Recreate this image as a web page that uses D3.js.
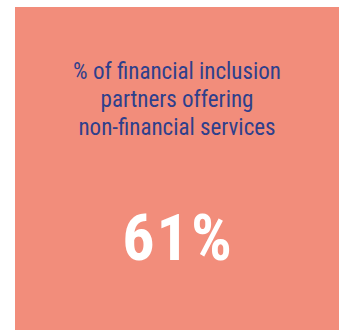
<!DOCTYPE html>
<html>
<head>
<meta charset="utf-8">
<script src="https://cdn.jsdelivr.net/npm/d3@7"></script>
<style>
  html, body { margin: 0; padding: 0; background: #ffffff; }
  svg { display: block; }
</style>
</head>
<body>
<div id="chart"></div>
<script>
// Headline statistic card
const titleLines = ["% of financial inclusion", "partners offering", "non-financial services"];
const statValue = [61];
const statUnit = "%";

const width = 351, height = 330;
const svg = d3.select("#chart").append("svg")
  .attr("width", width)
  .attr("height", height);

// Card background
const card = { x0: 15, y0: 7, x1: 339, y1: 330 };
svg.append("rect")
  .attr("x", card.x0)
  .attr("y", card.y0)
  .attr("width", card.x1 - card.x0)
  .attr("height", card.y1 - card.y0)
  .attr("fill", "#F28D7B");

const cx = (card.x0 + card.x1) / 2;
const narrow = "'Liberation Sans Narrow', 'Roboto Condensed', 'Arial Narrow', 'DejaVu Sans Condensed', sans-serif";

// Title lines
const lineY = d3.scalePoint().domain(d3.range(titleLines.length)).range([79, 135]);
svg.append("g")
  .selectAll("text")
  .data(titleLines)
  .join("text")
  .attr("x", cx)
  .attr("y", (d, i) => lineY(i))
  .attr("text-anchor", "middle")
  .attr("font-family", narrow)
  .attr("font-size", 23)
  .attr("fill", "#2E3F8C")
  .text(d => d);

// Big number
svg.append("g")
  .selectAll("text")
  .data(statValue)
  .join("text")
  .attr("x", cx + 1)
  .attr("y", 260)
  .attr("text-anchor", "middle")
  .attr("font-family", narrow)
  .attr("font-weight", "bold")
  .attr("font-size", 64)
  .attr("letter-spacing", 2)
  .attr("fill", "#ffffff")
  .text(d => d + statUnit);
</script>
</body>
</html>
